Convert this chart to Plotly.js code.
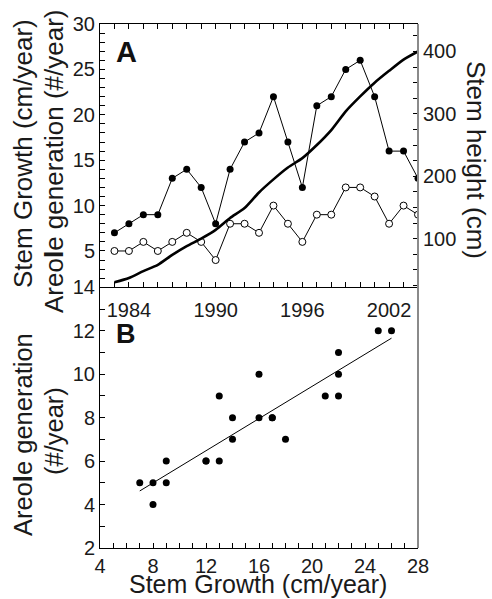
<!DOCTYPE html>
<html>
<head>
<meta charset="utf-8">
<script src="https://cdn.plot.ly/plotly-3.0.1.min.js"></script>
<style>
  html, body { margin: 0; padding: 0; background: #fff; }
  #chart { width: 492px; height: 599px; }
</style>
</head>
<body>
<div id="chart"></div>
<script>
// ---- Data ----
const years = [1983, 1984, 1985, 1986, 1987, 1988, 1989, 1990, 1991, 1992, 1993,
               1994, 1995, 1996, 1997, 1998, 1999, 2000, 2001, 2002, 2003, 2004];
const stemGrowth = [7, 8, 9, 9, 13, 14, 12, 8, 14, 17, 18, 22, 17, 12, 21, 22, 25, 26, 22, 16, 16, 13];
const areoleGen  = [5, 5, 6, 5, 6, 7, 6, 4, 8, 8, 7, 10, 8, 6, 9, 9, 12, 12, 11, 8, 10, 9];
const stemHeight = [30, 37, 48, 58, 74, 88, 100, 114, 133, 149, 174, 195, 214, 229, 250, 274, 304, 328, 350, 369, 387, 400];

const yearTicks = [1984, 1990, 1996, 2002];
const leftTicksA = [5, 10, 15, 20, 25, 30];
const rightTicksA = [100, 200, 300, 400];
const xTicksB = [4, 8, 12, 16, 20, 24, 28];
const yTicksB = [2, 4, 6, 8, 10, 12, 14];

// ---- least squares fit for panel B ----
function fit(xs, ys) {
  const n = xs.length;
  const mx = xs.reduce((a, b) => a + b, 0) / n;
  const my = ys.reduce((a, b) => a + b, 0) / n;
  let sxy = 0, sxx = 0;
  for (let i = 0; i < n; i++) { sxy += (xs[i] - mx) * (ys[i] - my); sxx += (xs[i] - mx) ** 2; }
  const b = sxy / sxx;
  return { a: my - b * mx, b: b };
}
const lf = fit(stemGrowth, areoleGen);
const fx = [Math.min(...stemGrowth), Math.max(...stemGrowth)];
const fy = fx.map(v => lf.a + lf.b * v);

// ---- Layout helpers (pixel -> paper) ----
const W = 492, H = 599;
const M = { l: 100, r: 74, t: 24, b: 51 };
const PW = W - M.l - M.r, PH = H - M.t - M.b;
const px = x => (x - M.l) / PW;
const py = y => (H - M.b - y) / PH;
const split = py(287.3);

const FONT = 'Liberation Sans, Arial, Helvetica, sans-serif';
const TXT = '#1a1a1a';

const traces = [
  { x: years, y: stemHeight, xaxis: 'x', yaxis: 'y2', type: 'scatter', mode: 'lines',
    line: { color: '#000', width: 2.6, shape: 'spline', smoothing: 0.6 }, hoverinfo: 'skip' },
  { x: years, y: stemGrowth, xaxis: 'x', yaxis: 'y', type: 'scatter', mode: 'lines+markers',
    line: { color: '#000', width: 1 }, marker: { color: '#000', size: 7, symbol: 'circle' } },
  { x: years, y: areoleGen, xaxis: 'x', yaxis: 'y', type: 'scatter', mode: 'lines+markers',
    line: { color: '#000', width: 1 },
    marker: { color: '#fff', size: 7, symbol: 'circle', line: { color: '#000', width: 1 } } },
  { x: fx, y: fy, xaxis: 'x2', yaxis: 'y3', type: 'scatter', mode: 'lines',
    line: { color: '#000', width: 1 } },
  { x: stemGrowth, y: areoleGen, xaxis: 'x2', yaxis: 'y3', type: 'scatter', mode: 'markers',
    marker: { color: '#000', size: 7 } }
];

const tickFont = { family: FONT, size: 20, color: TXT };
const axBase = {
  showline: true, linecolor: '#000', linewidth: 1, ticks: 'inside', ticklen: 5,
  tickcolor: '#000', tickwidth: 1, showgrid: false, zeroline: false, tickfont: tickFont,
  fixedrange: true
};

const titleFont = { family: FONT, size: 26, color: TXT };
function ann(text, x, y, angle, font) {
  return { text: text, xref: 'paper', yref: 'paper', x: px(x), y: py(y),
           xanchor: 'center', yanchor: 'middle', showarrow: false, textangle: angle,
           font: font || titleFont };
}
const bTitleFont = { family: FONT, size: 25.5, color: TXT };

const layout = {
  width: W, height: H, margin: M, showlegend: false,
  paper_bgcolor: '#fff', plot_bgcolor: '#fff',
  xaxis: Object.assign({}, axBase, {
    domain: [0, 1], anchor: 'y', range: [1982, 2004], tickvals: yearTicks,
    mirror: 'ticks', ticklabelstandoff: 5,
    minor: { dtick: 1, tick0: 1982, ticks: 'inside', ticklen: 5, tickcolor: '#000' }
  }),
  yaxis: Object.assign({}, axBase, {
    domain: [split, 1], anchor: 'x', range: [1, 30], tickvals: leftTicksA,
    minor: { dtick: 1, tick0: 0, ticks: 'inside', ticklen: 5, tickcolor: '#000' }
  }),
  yaxis2: Object.assign({}, axBase, {
    overlaying: 'y', side: 'right', anchor: 'x', range: [22, 444], tickvals: rightTicksA,
    showline: false, ticklabelstandoff: 4,
    minor: { dtick: 25, tick0: 0, ticks: 'inside', ticklen: 5, tickcolor: '#000' }
  }),
  xaxis2: Object.assign({}, axBase, {
    domain: [0, 1], anchor: 'y3', range: [4, 28], tickvals: xTicksB,
    minor: { dtick: 1, tick0: 0, ticks: 'inside', ticklen: 5, tickcolor: '#000' }
  }),
  yaxis3: Object.assign({}, axBase, {
    domain: [0, split], anchor: 'x2', range: [2, 14], tickvals: yTicksB,
    minor: { dtick: 1, tick0: 0, ticks: 'inside', ticklen: 5, tickcolor: '#000' }
  }),
  shapes: [
    { type: 'line', xref: 'paper', yref: 'paper', x0: 1, x1: 1, y0: 0, y1: 1,
      line: { color: '#8a8a8a', width: 2 } }
  ],
  annotations: [
    ann('Stem Growth (cm/year)', 23, 154, -90),
    ann('Areo<b>l</b>e generation (#/year)', 54, 161, -90),
    ann('Stem height (cm)', 476, 160, 90),
    ann('Areo<b>l</b>e generation', 23, 435, -90, bTitleFont),
    ann('(#/year)', 54, 431, -90, bTitleFont),
    ann('Stem Growth (cm/year)', 258, 584, 0, { family: FONT, size: 25, color: TXT }),
    ann('<b>A</b>', 126, 52, 0, { family: FONT, size: 29, color: '#111' }),
    ann('<b>B</b>', 126, 334, 0, { family: FONT, size: 27, color: '#111' })
  ]
};

Plotly.newPlot('chart', traces, layout, { staticPlot: true, displayModeBar: false });
</script>
</body>
</html>
